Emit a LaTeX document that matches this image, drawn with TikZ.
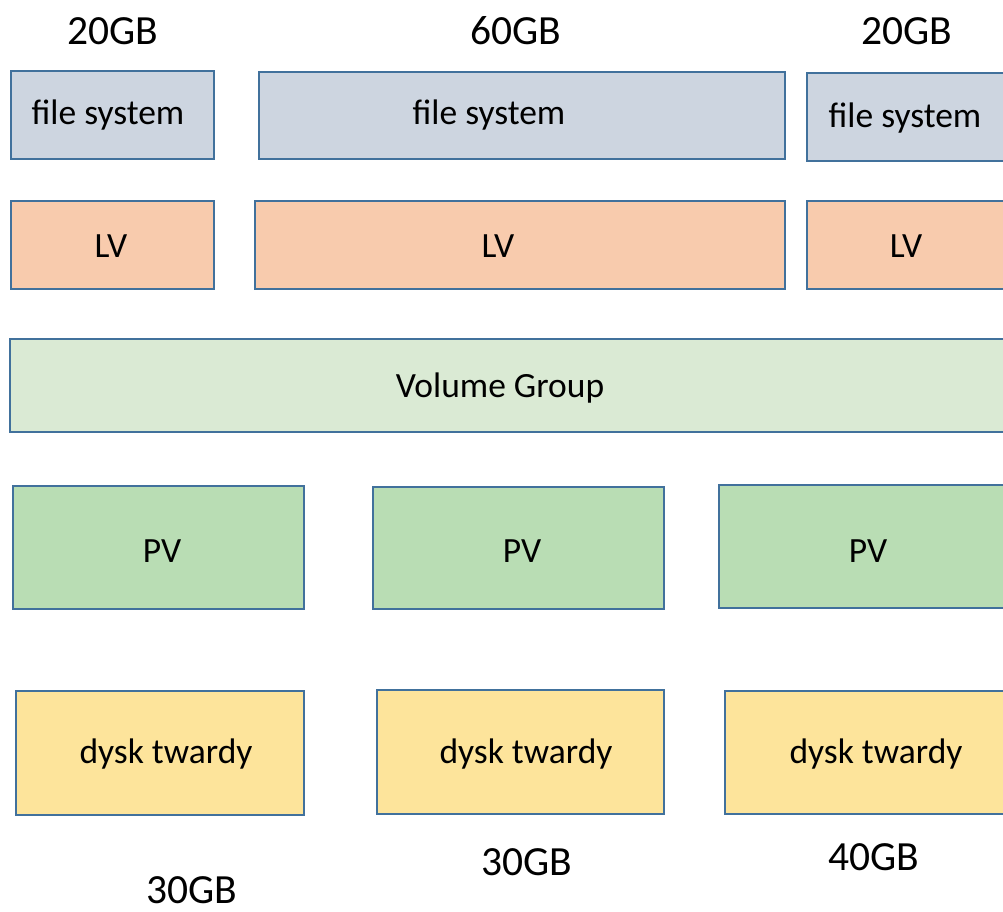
\documentclass[tikz,border=0pt]{standalone}
\usepackage{fontspec}
\setmainfont{Carlito}
\definecolor{edgeblue}{HTML}{41719C}
\definecolor{fsfill}{HTML}{CDD5E0}
\definecolor{lvfill}{HTML}{F8CBAD}
\definecolor{vgfill}{HTML}{DAEAD4}
\definecolor{pvfill}{HTML}{B9DDB4}
\definecolor{hdfill}{HTML}{FDE49B}
\tikzset{
  box/.style={draw=edgeblue, line width=2.4pt, rectangle, inner sep=0pt, anchor=north west},
  fsbox/.style={box, fill=fsfill},
  lvbox/.style={box, fill=lvfill},
  vgbox/.style={box, fill=vgfill},
  pvbox/.style={box, fill=pvfill},
  hdbox/.style={box, fill=hdfill},
  txt/.style={font=\fontsize{35.5}{42}\selectfont, inner sep=0pt, yshift=-2pt},
  size/.style={font=\fontsize{41.5}{48}\selectfont, inner sep=0pt},
}
\begin{document}
\begin{tikzpicture}[x=1pt, y=-1pt]
\useasboundingbox (0,0) rectangle (1003,912);
\clip (0,0) rectangle (1003,912);
% sizes of the logical volumes
\node[size] (s1) at (113,31) {20GB};
\node[size] (s2) at (516,31) {60GB};
\node[size] (s3) at (907,31) {20GB};
% file systems
\node[fsbox, minimum width=203pt, minimum height=88pt] (fs1) at (10,70) {};
\node[fsbox, minimum width=526pt, minimum height=87pt] (fs2) at (258,71) {};
\node[fsbox, minimum width=230pt, minimum height=88pt] (fs3) at (806,72) {};
\node[txt] (tfs1) at (108,113) {file system};
\node[txt] (tfs2) at (489,113) {file system};
\node[txt] (tfs3) at (905,116) {file system};
% logical volumes
\node[lvbox, minimum width=203pt, minimum height=88pt] (lv1) at (10,200) {};
\node[lvbox, minimum width=530pt, minimum height=88pt] (lv2) at (254,200) {};
\node[lvbox, minimum width=230pt, minimum height=88pt] (lv3) at (806,200) {};
\node[txt] (tlv1) at (111,244) {LV};
\node[txt] (tlv2) at (498,244) {LV};
\node[txt] (tlv3) at (906,244) {LV};
% volume group
\node[vgbox, minimum width=1030pt, minimum height=93pt] (vg) at (9,338) {};
\node[txt] (tvg) at (500,386) {Volume Group};
% physical volumes
\node[pvbox, minimum width=291pt, minimum height=123pt] (pv1) at (12,485) {};
\node[pvbox, minimum width=291pt, minimum height=122pt] (pv2) at (372,486) {};
\node[pvbox, minimum width=320pt, minimum height=123pt] (pv3) at (718,484) {};
\node[txt] (tpv1) at (162,549) {PV};
\node[txt] (tpv2) at (522,549) {PV};
\node[txt] (tpv3) at (868,549) {PV};
% hard disks
\node[hdbox, minimum width=288pt, minimum height=124pt] (hd1) at (15,690) {};
\node[hdbox, minimum width=287pt, minimum height=124pt] (hd2) at (376,689) {};
\node[hdbox, minimum width=320pt, minimum height=123pt] (hd3) at (724,690) {};
\node[txt] (thd1) at (166,752) {dysk twardy};
\node[txt] (thd2) at (526,752) {dysk twardy};
\node[txt] (thd3) at (876,752) {dysk twardy};
% disk sizes
\node[size] (d1) at (192,890) {30GB};
\node[size] (d2) at (527,862) {30GB};
\node[size] (d3) at (874,857) {40GB};
\end{tikzpicture}
\end{document}
